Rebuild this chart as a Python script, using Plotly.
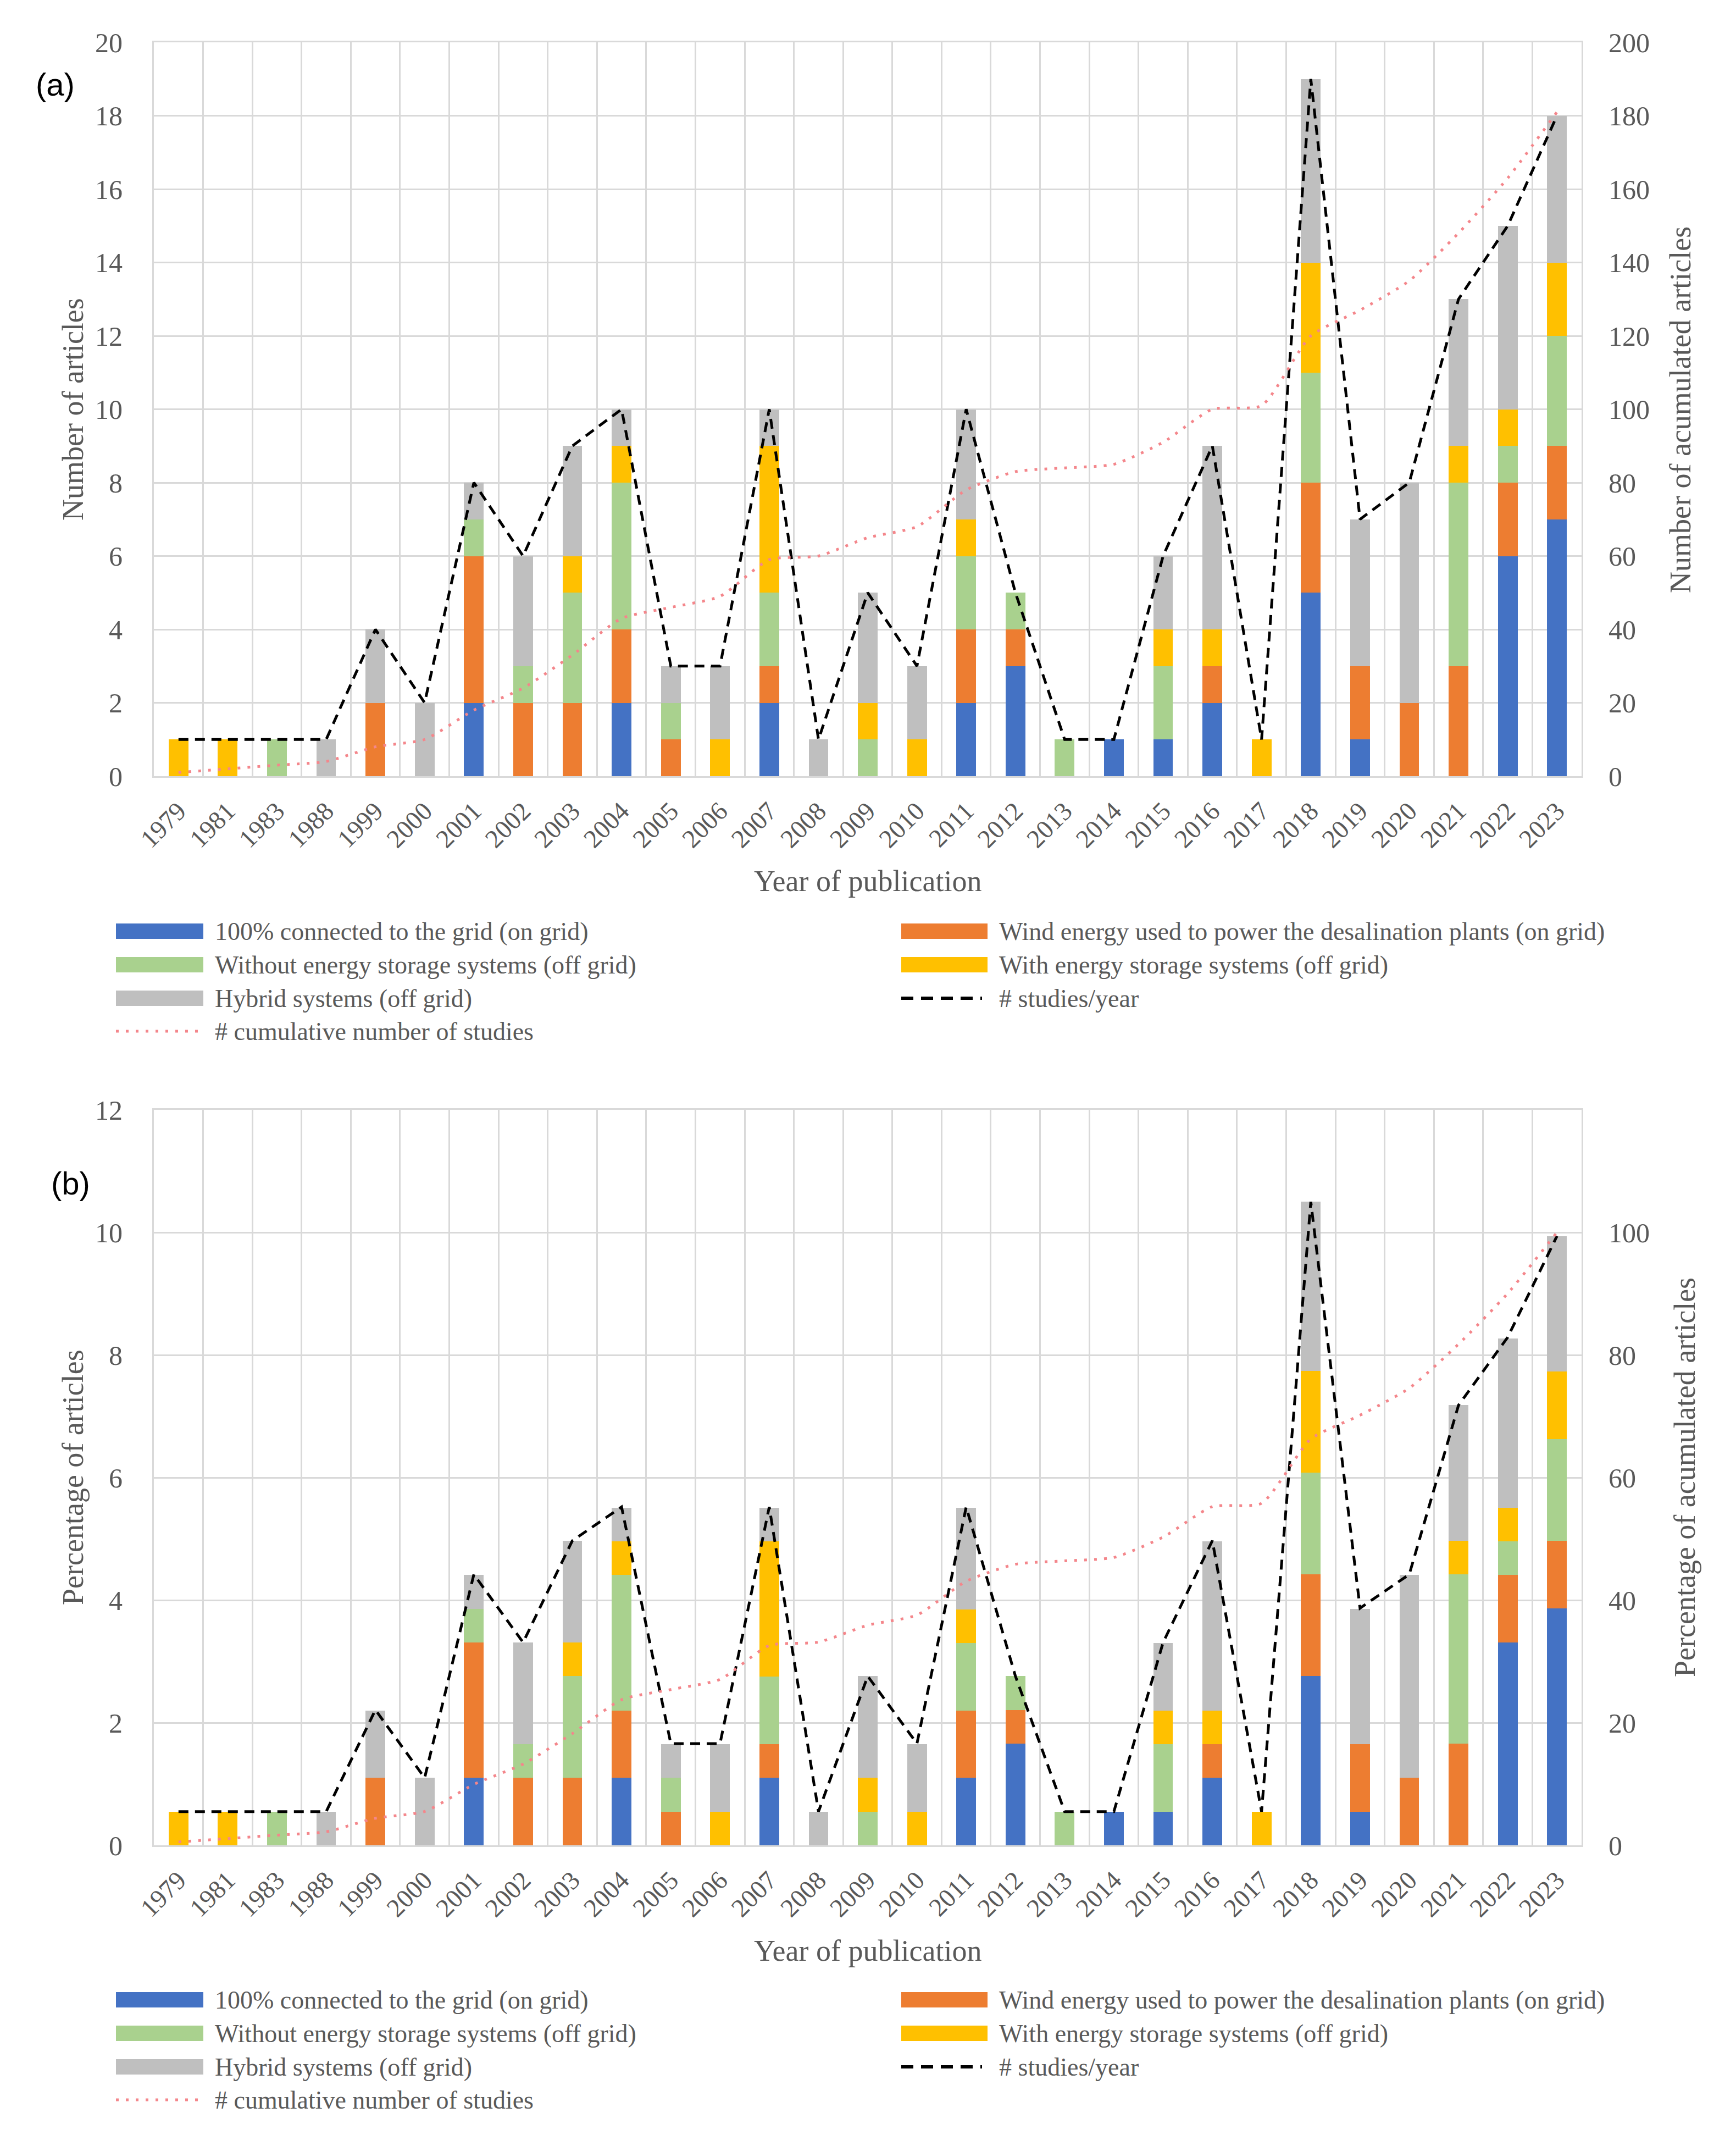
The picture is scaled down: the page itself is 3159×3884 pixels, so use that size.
import plotly.graph_objects as go

# ---------------- data ----------------
years = ["1979", "1981", "1983", "1988", "1999", "2000", "2001", "2002", "2003", "2004",
         "2005", "2006", "2007", "2008", "2009", "2010", "2011", "2012", "2013", "2014",
         "2015", "2016", "2017", "2018", "2019", "2020", "2021", "2022", "2023"]

series_names = ["100% connected to the grid (on grid)",
                "Wind energy used to power the desalination plants (on grid)",
                "Without energy storage systems (off grid)",
                "With energy storage systems (off grid)",
                "Hybrid systems (off grid)"]
line_names = ["# studies/year", "# cumulative number of studies"]

# (a) number of articles
on_grid = [0, 0, 0, 0, 0, 0, 2, 0, 0, 2, 0, 0, 2, 0, 0, 0, 2, 3, 0, 1, 1, 2, 0, 5, 1, 0, 0, 6, 7]
wind_on_grid = [0, 0, 0, 0, 2, 0, 4, 2, 2, 2, 1, 0, 1, 0, 0, 0, 2, 1, 0, 0, 0, 1, 0, 3, 2, 2, 3, 2, 2]
without_storage = [0, 0, 1, 0, 0, 0, 1, 1, 3, 4, 1, 0, 2, 0, 1, 0, 2, 1, 1, 0, 2, 0, 0, 3, 0, 0, 5, 1, 3]
with_storage = [1, 1, 0, 0, 0, 0, 0, 0, 1, 1, 0, 1, 4, 0, 1, 1, 1, 0, 0, 0, 1, 1, 1, 3, 0, 0, 1, 1, 2]
hybrid = [0, 0, 0, 1, 2, 2, 1, 3, 3, 1, 1, 2, 1, 1, 3, 2, 3, 0, 0, 0, 2, 5, 0, 5, 4, 6, 4, 5, 4]
studies_per_year = [1, 1, 1, 1, 4, 2, 8, 6, 9, 10, 3, 3, 10, 1, 5, 3, 10, 5, 1, 1, 6, 9, 1, 19, 7, 8, 13, 15, 18]
cumulative = [1, 2, 3, 4, 8, 10, 18, 24, 33, 43, 46, 49, 59, 60, 65, 68, 78, 83, 84, 85, 91, 100, 101,
              120, 127, 135, 148, 163, 181]

# (b) percentage of articles
pct_on_grid = [0, 0, 0, 0, 0, 0, 1.10, 0, 0, 1.10, 0, 0, 1.10, 0, 0, 0, 1.10, 1.66, 0, 0.55, 0.55, 1.10,
               0, 2.76, 0.55, 0, 0, 3.31, 3.87]
pct_wind_on_grid = [0, 0, 0, 0, 1.10, 0, 2.21, 1.10, 1.10, 1.10, 0.55, 0, 0.55, 0, 0, 0, 1.10, 0.55, 0, 0,
                    0, 0.55, 0, 1.66, 1.10, 1.10, 1.66, 1.10, 1.10]
pct_without_storage = [0, 0, 0.55, 0, 0, 0, 0.55, 0.55, 1.66, 2.21, 0.55, 0, 1.10, 0, 0.55, 0, 1.10, 0.55,
                       0.55, 0, 1.10, 0, 0, 1.66, 0, 0, 2.76, 0.55, 1.66]
pct_with_storage = [0.55, 0.55, 0, 0, 0, 0, 0, 0, 0.55, 0.55, 0, 0.55, 2.21, 0, 0.55, 0.55, 0.55, 0, 0, 0,
                    0.55, 0.55, 0.55, 1.66, 0, 0, 0.55, 0.55, 1.10]
pct_hybrid = [0, 0, 0, 0.55, 1.10, 1.10, 0.55, 1.66, 1.66, 0.55, 0.55, 1.10, 0.55, 0.55, 1.66, 1.10, 1.66,
              0, 0, 0, 1.10, 2.76, 0, 2.76, 2.21, 3.31, 2.21, 2.76, 2.21]
pct_studies_per_year = [0.55, 0.55, 0.55, 0.55, 2.21, 1.10, 4.42, 3.31, 4.97, 5.52, 1.66, 1.66, 5.52, 0.55,
                        2.76, 1.66, 5.52, 2.76, 0.55, 0.55, 3.31, 4.97, 0.55, 10.50, 3.87, 4.42, 7.18,
                        8.29, 9.94]
pct_cumulative = [0.55, 1.10, 1.66, 2.21, 4.42, 5.52, 9.94, 13.26, 18.23, 23.76, 25.41, 27.07, 32.60,
                  33.15, 35.91, 37.57, 43.09, 45.86, 46.41, 46.96, 50.28, 55.25, 55.80, 66.30, 70.17,
                  74.59, 81.77, 90.06, 100.00]

left_ticks_a = [0, 2, 4, 6, 8, 10, 12, 14, 16, 18, 20]
right_ticks_a = [0, 20, 40, 60, 80, 100, 120, 140, 160, 180, 200]
left_ticks_b = [0, 2, 4, 6, 8, 10, 12]
right_ticks_b = [0, 20, 40, 60, 80, 100]

# ---------------- styles ----------------
colors = ["#4472C4", "#ED7D31", "#A9D18E", "#FFC000", "#BFBFBF"]
pink = "#F4868B"
grid = "#D9D9D9"
txt = "#595959"
SERIF = "Liberation Serif"
SANS = "Liberation Sans"

OFF = 8  # page body margin
W, H = 3159 - OFF, 3884 - OFF
L, R, T, B = 280 - OFF, 281, 77 - OFF, 527
PW, PH = W - L - R, H - T - B


def px(x):
    return (x - OFF - L) / PW


def py(y):
    return (H - B - (y - OFF)) / PH


a_dom = [py(1412), 1.0]
b_dom = [0.0, py(2019)]

fig = go.Figure()

panel_a = [on_grid, wind_on_grid, without_storage, with_storage, hybrid]
panel_b = [pct_on_grid, pct_wind_on_grid, pct_without_storage, pct_with_storage, pct_hybrid]

for vals, name, col in zip(panel_a, series_names, colors):
    fig.add_trace(go.Bar(x=years, y=vals, name=name, marker=dict(color=col, line=dict(width=0)),
                         xaxis="x", yaxis="y", showlegend=False))
fig.add_trace(go.Scatter(x=years, y=studies_per_year, name=line_names[0], mode="lines",
                         line=dict(color="black", width=5, dash="18px,12px"),
                         xaxis="x", yaxis="y", showlegend=False))
fig.add_trace(go.Scatter(x=years, y=cumulative, name=line_names[1], mode="lines",
                         line=dict(color=pink, width=5, dash="5px,13px", shape="spline", smoothing=0.6),
                         xaxis="x", yaxis="y2", showlegend=False))

for vals, name, col in zip(panel_b, series_names, colors):
    fig.add_trace(go.Bar(x=years, y=vals, name=name, marker=dict(color=col, line=dict(width=0)),
                         xaxis="x2", yaxis="y3", showlegend=False))
fig.add_trace(go.Scatter(x=years, y=pct_studies_per_year, name=line_names[0], mode="lines",
                         line=dict(color="black", width=5, dash="18px,12px"),
                         xaxis="x2", yaxis="y3", showlegend=False))
fig.add_trace(go.Scatter(x=years, y=pct_cumulative, name=line_names[1], mode="lines",
                         line=dict(color=pink, width=5, dash="5px,13px", shape="spline", smoothing=0.6),
                         xaxis="x2", yaxis="y4", showlegend=False))

xcommon = dict(type="category", tickson="boundaries", showgrid=True, gridcolor=grid, gridwidth=3,
               showline=True, linecolor=grid, linewidth=3, mirror=True, ticks="",
               tickangle=-45, tickfont=dict(family=SERIF, size=47, color=txt),
               ticklabelstandoff=14, domain=[0, 1])
ycommon = dict(showgrid=True, gridcolor=grid, gridwidth=3, zeroline=False, showline=True,
               linecolor=grid, linewidth=3, mirror=True, ticks="",
               tickfont=dict(family=SERIF, size=50, color=txt), ticklabelstandoff=44)
yright = dict(showgrid=False, zeroline=False, showline=False, ticks="", side="right",
              tickfont=dict(family=SERIF, size=50, color=txt), ticklabelstandoff=48)

fig.update_layout(
    width=W, height=H,
    margin=dict(l=L, r=R, t=T, b=B),
    paper_bgcolor="white", plot_bgcolor="white",
    barmode="stack", bargap=0.6,
    showlegend=False,
    xaxis=dict(anchor="y", **xcommon),
    yaxis=dict(domain=a_dom, range=[0, 20], tickvals=left_ticks_a, **ycommon),
    yaxis2=dict(overlaying="y", anchor="x", range=[0, 200], tickvals=right_ticks_a, **yright),
    xaxis2=dict(anchor="y3", **xcommon),
    yaxis3=dict(domain=b_dom, range=[0, 12], tickvals=left_ticks_b, **ycommon),
    yaxis4=dict(overlaying="y3", anchor="x2", range=[0, 120], tickvals=right_ticks_b, **yright),
)

ann = []
shapes = []


def title_text(x, y, text, angle=0, size=54, family=SERIF, color=txt):
    ann.append(dict(x=px(x), y=py(y), xref="paper", yref="paper", text=text, showarrow=False,
                    textangle=angle, font=dict(family=family, size=size, color=color),
                    xanchor="center", yanchor="middle"))


# panel labels
title_text(100, 154, "(a)", size=58, family=SANS, color="black")
title_text(128, 2152, "(b)", size=58, family=SANS, color="black")

# axis titles
title_text(133, 745, "Number of articles", angle=-90)
title_text(3058, 745, "Number of acumulated articles", angle=-90)
title_text(1579, 1603, "Year of publication")
title_text(133, 2688, "Percentage of articles", angle=-90)
title_text(3066, 2688, "Percentage of acumulated articles", angle=-90)
title_text(1579, 3549, "Year of publication")

LEG_FONT = 46


def legend_block(row0):
    rows = [row0, row0 + 61, row0 + 122, row0 + 182]
    cols = [(211, 370, 389), (1640, 1797, 1816)]
    slots = [(0, 0), (0, 1), (1, 0), (1, 1), (2, 0)]
    for (r, c), name, col in zip(slots, series_names, colors):
        x0, x1, tx = cols[c]
        yc = rows[r]
        shapes.append(dict(type="rect", xref="paper", yref="paper", x0=px(x0), x1=px(x1),
                           y0=py(yc + 14), y1=py(yc - 14), fillcolor=col, line=dict(width=0)))
        ann.append(dict(x=px(tx), y=py(yc), xref="paper", yref="paper", text=name, showarrow=False,
                        font=dict(family=SERIF, size=LEG_FONT, color=txt), xanchor="left", yanchor="middle"))
    # dashed line entry
    x0, x1, tx = cols[1]
    yc = rows[2]
    shapes.append(dict(type="line", xref="paper", yref="paper", x0=px(x0), x1=px(x1 - 10),
                       y0=py(yc), y1=py(yc), line=dict(color="black", width=6, dash="22px,14px")))
    ann.append(dict(x=px(tx), y=py(yc), xref="paper", yref="paper", text=line_names[0], showarrow=False,
                    font=dict(family=SERIF, size=LEG_FONT, color=txt), xanchor="left", yanchor="middle"))
    # dotted line entry
    x0, x1, tx = cols[0]
    yc = rows[3]
    shapes.append(dict(type="line", xref="paper", yref="paper", x0=px(x0), x1=px(x1),
                       y0=py(yc), y1=py(yc), line=dict(color=pink, width=5, dash="5px,13px")))
    ann.append(dict(x=px(tx), y=py(yc), xref="paper", yref="paper", text=line_names[1], showarrow=False,
                    font=dict(family=SERIF, size=LEG_FONT, color=txt), xanchor="left", yanchor="middle"))


legend_block(1694)
legend_block(3638)

fig.update_layout(annotations=ann, shapes=shapes)

fig.write_html("out.html")
